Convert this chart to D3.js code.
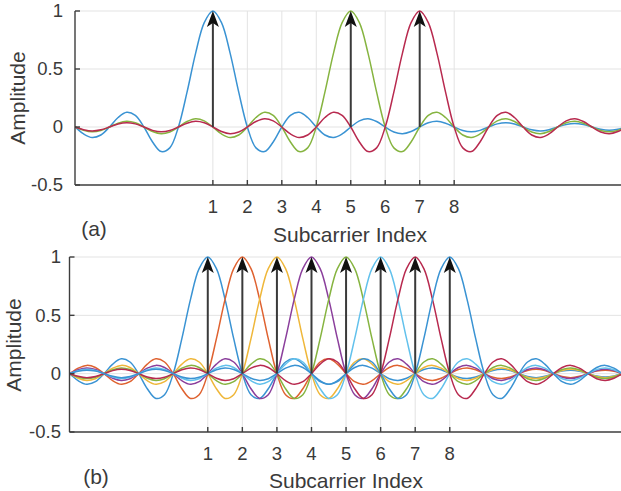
<!DOCTYPE html>
<html>
<head>
<meta charset="utf-8">
<script src="https://cdn.jsdelivr.net/npm/d3@7"></script>
<style>
  body { margin: 0; background: #fff; }
  svg { display: block; font-family: "Liberation Sans", Arial, Helvetica, sans-serif; }
</style>
</head>
<body>
<div id="chart"></div>
<script>
// subcarrier tick positions and y ticks
const xTicks = [1, 2, 3, 4, 5, 6, 7, 8];
const yTicks = [-0.5, 0, 0.5, 1];
const yTickLabels = ["-0.5", "0", "0.5", "1"];

// which subcarriers are on in each panel
const topCarriers = [1, 5, 7];
const bottomCarriers = [1, 2, 3, 4, 5, 6, 7, 8];

// one subcarrier pulse, read every quarter index away from its peak (0 .. 12)
const pulseValues = [
  1, 0.900, 0.637, 0.300, 0, -0.180, -0.212, -0.129,
  0, 0.100, 0.127, 0.082, 0, -0.069, -0.091, -0.060,
  0, 0.053, 0.071, 0.047, 0, -0.043, -0.058, -0.039,
  0, 0.036, 0.049, 0.033, 0, -0.031, -0.042, -0.029,
  0, 0.027, 0.037, 0.026, 0, -0.024, -0.034, -0.023,
  0, 0.022, 0.030, 0.021, 0, -0.020, -0.028, -0.019,
  0
];
const pulseStep = 0.25;

// MATLAB-ish line colours, by carrier number
const colorByCarrier = {
  top: { 1: "#3a93d3", 5: "#86b440", 7: "#b82a4f" },
  bottom: { 1: "#3a93d3", 2: "#df6230", 3: "#efb73a", 4: "#8b3f9c",
            5: "#86b440", 6: "#62c1ec", 7: "#b82a4f", 8: "#3a93d3" }
};

const W = 621, H = 491;
const svg = d3.select("#chart").append("svg")
  .attr("width", W).attr("height", H);

// points of one pulse centred on carrier c
function pulse(c) {
  const pts = [];
  for (let i = pulseValues.length - 1; i > 0; i--) pts.push([c - i * pulseStep, pulseValues[i]]);
  for (let i = 0; i < pulseValues.length; i++) pts.push([c + i * pulseStep, pulseValues[i]]);
  return pts;
}

function panel(opt) {
  const x = d3.scaleLinear().domain([-3, 13]).range([opt.left, opt.left + 16 * opt.step]);
  const y = d3.scaleLinear().domain([-0.5, 1]).range([opt.bottom, opt.top]);
  const g = svg.append("g");
  const x0 = x.range()[0], x1 = x.range()[1];

  const clipId = "clip-" + opt.name;
  g.append("clipPath").attr("id", clipId)
    .append("rect").attr("x", x0).attr("y", opt.top - 2)
    .attr("width", x1 - x0).attr("height", opt.bottom - opt.top + 4);

  // grid
  g.selectAll(".hgrid").data([0, 0.5, 1]).enter().append("line")
    .attr("x1", x0).attr("x2", x1)
    .attr("y1", d => y(d)).attr("y2", d => y(d))
    .attr("stroke", "#e3e3e3").attr("stroke-width", 1);
  g.selectAll(".vgrid").data(xTicks).enter().append("line")
    .attr("x1", d => x(d)).attr("x2", d => x(d))
    .attr("y1", y(-0.5)).attr("y2", y(1))
    .attr("stroke", "#e3e3e3").attr("stroke-width", 1);

  // pulses
  const line = d3.line().x(d => x(d[0])).y(d => y(d[1])).curve(d3.curveCatmullRom);
  g.append("g").attr("clip-path", `url(#${clipId})`)
    .selectAll("path").data(opt.carriers).enter().append("path")
    .attr("d", c => line(pulse(c)))
    .attr("fill", "none")
    .attr("stroke", c => opt.colors[c])
    .attr("stroke-width", 1.5);

  // arrows
  const arrows = g.selectAll(".arrow").data(opt.carriers).enter().append("g")
    .attr("transform", c => `translate(${x(c)},0)`);
  arrows.append("line")
    .attr("x1", 0).attr("x2", 0)
    .attr("y1", y(0)).attr("y2", y(1) + 8)
    .attr("stroke", "#3a3a3a").attr("stroke-width", 2);
  arrows.append("path")
    .attr("d", () => {
      const t = y(1);
      return `M0,${t} L6,${t + 16} L0,${t + 12} L-6,${t + 16} Z`;
    })
    .attr("fill", "#111");

  // axes
  const axisColor = "#3d3d3d";
  g.append("line").attr("x1", x0).attr("x2", x1)
    .attr("y1", y(-0.5)).attr("y2", y(-0.5))
    .attr("stroke", axisColor).attr("stroke-width", 1.4);
  g.append("line").attr("x1", x0).attr("x2", x0)
    .attr("y1", y(-0.5)).attr("y2", y(1))
    .attr("stroke", axisColor).attr("stroke-width", 1.4);
  g.selectAll(".xt").data(xTicks).enter().append("line")
    .attr("x1", d => x(d)).attr("x2", d => x(d))
    .attr("y1", y(-0.5)).attr("y2", y(-0.5) - 5)
    .attr("stroke", axisColor).attr("stroke-width", 1.4);
  g.selectAll(".yt").data(yTicks).enter().append("line")
    .attr("x1", x0).attr("x2", x0 + 5)
    .attr("y1", d => y(d)).attr("y2", d => y(d))
    .attr("stroke", axisColor).attr("stroke-width", 1.4);

  const textColor = "#3a3a3a";
  g.selectAll(".xl").data(xTicks).enter().append("text")
    .attr("x", d => x(d)).attr("y", opt.xTickBase)
    .attr("text-anchor", "middle").attr("font-size", "18.5px")
    .attr("fill", textColor).text(d => d);
  g.selectAll(".yl").data(yTicks).enter().append("text")
    .attr("x", opt.yTickRight).attr("y", d => y(d))
    .attr("dy", "0.35em")
    .attr("text-anchor", "end").attr("font-size", "18.5px")
    .attr("fill", textColor).text((d, i) => yTickLabels[i]);

  g.append("text")
    .attr("x", opt.xLabelX).attr("y", opt.xLabelBase)
    .attr("text-anchor", "middle").attr("font-size", "21px")
    .attr("fill", textColor).text("Subcarrier Index");
  g.append("text")
    .attr("transform", `translate(${opt.yLabelBase},${opt.yLabelY}) rotate(-90)`)
    .attr("text-anchor", "middle").attr("font-size", "21px")
    .attr("fill", textColor).text("Amplitude");
  g.append("text")
    .attr("x", opt.tagX).attr("y", opt.tagBase)
    .attr("text-anchor", "middle").attr("font-size", "21px")
    .attr("fill", textColor).text(opt.tag);
}

panel({
  name: "a", carriers: topCarriers, colors: colorByCarrier.top,
  left: 75, step: 34.47, top: 11, bottom: 185,
  xTickBase: 213, yTickRight: 63,
  xLabelX: 350, xLabelBase: 242, yLabelBase: 25, yLabelY: 98,
  tag: "(a)", tagX: 94, tagBase: 236
});

panel({
  name: "b", carriers: bottomCarriers, colors: colorByCarrier.bottom,
  left: 69.5, step: 34.57, top: 257, bottom: 432,
  xTickBase: 460, yTickRight: 61,
  xLabelX: 346, xLabelBase: 488, yLabelBase: 21, yLabelY: 345,
  tag: "(b)", tagX: 96, tagBase: 484
});
</script>
</body>
</html>
